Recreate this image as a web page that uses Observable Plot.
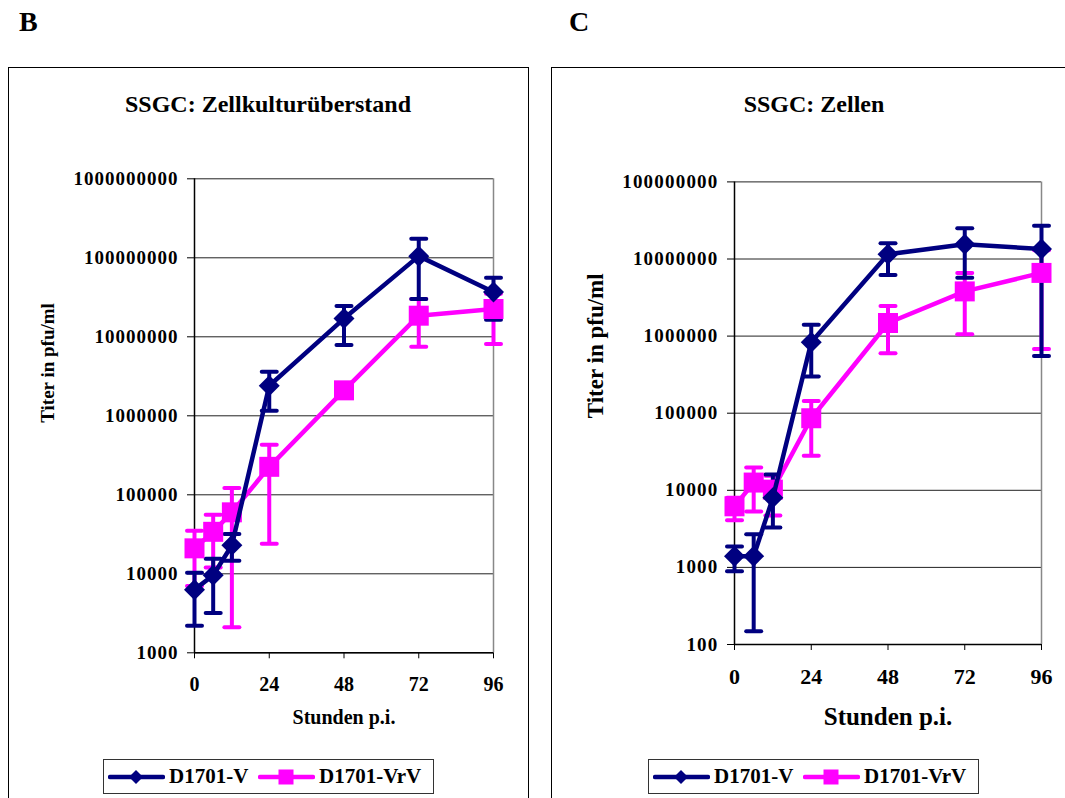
<!DOCTYPE html>
<html><head><meta charset="utf-8">
<script src="https://cdn.jsdelivr.net/npm/d3@7"></script>
<script src="https://cdn.jsdelivr.net/npm/@observablehq/plot@0.6"></script>
<style>
body{margin:0;background:#fff;}
#root{position:relative;width:1065px;height:798px;overflow:hidden;background:#fff;font-family:"Liberation Serif","Times New Roman",serif;font-weight:bold;color:#000;}
.abs{position:absolute;white-space:nowrap;}
.frame{position:absolute;border:1px solid #000;box-sizing:border-box;}
.plotwrap{position:absolute;}
.plotwrap svg{overflow:visible;}
.pB g[aria-label="y-axis tick label"] text{letter-spacing:1px;}
.pC g[aria-label="y-axis tick label"] text{letter-spacing:1.2px;}
.legend{position:absolute;border:1.5px solid #333;box-sizing:border-box;background:#fff;}
.legend .item{position:absolute;top:0;height:100%;display:flex;align-items:center;font-size:21px;}
</style>
</head><body><div id="root"></div>
<script>
// ---------- data ----------
const hours = [0, 6, 12, 24, 48, 72, 96];
const xTicks = [0, 24, 48, 72, 96];
const seriesNames = ["D1701-V", "D1701-VrV"];

// Panel B: SSGC Zellkulturüberstand
const bTicks = [1000, 10000, 100000, 1000000, 10000000, 100000000, 1000000000];
const bV     = [6300, 9600, 23000, 2400000, 17000000, 105000000, 37000000];
const bVhi   = [10300, 15500, 32000, 3600000, 24500000, 174000000, 56000000];
const bVlo   = [2200, 3200, 14600, 1160000, 7900000, 30000000, 16400000];
const bVrV   = [21000, 34000, 60000, 226000, 2100000, 18500000, 22500000];
const bVrVhi = [35000, 56000, 122000, 430000, 2600000, 30000000, 35000000];
const bVrVlo = [7000, 12000, 2100, 24000, 1700000, 7500000, 8100000];

// Panel C: SSGC Zellen
const cTicks = [100, 1000, 10000, 100000, 1000000, 10000000, 100000000];
const cV     = [1400, 1400, 8000, 830000, 11500000, 15500000, 13500000];
const cVhi   = [1870, 2700, 16000, 1400000, 16000000, 25000000, 27000000];
const cVlo   = [890, 148, 3300, 300000, 6200000, 5700000, 550000];
const cVrV   = [6200, 12600, 10200, 86000, 1480000, 3800000, 6600000];
const cVrVhi = [8000, 19800, 15500, 144000, 2450000, 6600000, 13000000];
const cVrVlo = [4100, 5300, 4700, 28000, 600000, 1060000, 680000];

const NAVY = "#000080", MAG = "#FF00FF";

// ---------- symbols ----------
const diamondSym = {draw(ctx, size){const r=Math.sqrt(size/Math.PI); ctx.moveTo(0,-r); ctx.lineTo(r,0); ctx.lineTo(0,r); ctx.lineTo(-r,0); ctx.closePath();}};
const squareSym  = {draw(ctx, size){const r=Math.sqrt(size/Math.PI); ctx.rect(-r,-r,2*r,2*r);}};
const capSym     = {draw(ctx, size){const r=Math.sqrt(size/Math.PI); ctx.moveTo(-r,0); ctx.lineTo(r,0);}};

function rows(v, hi, lo){ return hours.map((t,i)=>({t, v:v[i], hi:hi[i], lo:lo[i]})); }

function seriesMarks(data, color){
  return [
    Plot.ruleX(data, {x:"t", y1:"lo", y2:"hi", stroke:color, strokeWidth:4}),
    Plot.dot(data, {x:"t", y:"hi", symbol:capSym, r:7.5, stroke:color, fill:"none", strokeWidth:4, strokeLinecap:"round"}),
    Plot.dot(data, {x:"t", y:"lo", symbol:capSym, r:7.5, stroke:color, fill:"none", strokeWidth:4, strokeLinecap:"round"})
  ];
}
function lineMarks(data, color, sym, r){
  return [
    Plot.line(data, {x:"t", y:"v", stroke:color, strokeWidth:4.5, strokeLinejoin:"round"}),
    Plot.dot(data, {x:"t", y:"v", symbol:sym, r:r, fill:color, stroke:"none"})
  ];
}

function panel(o){
  const dV = rows(o.v, o.vhi, o.vlo), dR = rows(o.r, o.rhi, o.rlo);
  return Plot.plot({
    width:o.width, height:o.height,
    marginLeft:o.ml, marginRight:o.mr, marginTop:o.mt, marginBottom:o.mb,
    className:o.cls,
    style:{fontFamily:'"Liberation Serif","Times New Roman",serif', fontWeight:"bold", background:"transparent", color:"#000", overflow:"visible"},
    x:{domain:[0,96]},
    y:{type:"log", domain:[o.ticks[0], o.ticks[o.ticks.length-1]]},
    marks:[
      Plot.ruleY(o.ticks, {stroke:"#222", strokeWidth:1}),
      Plot.ruleX([96], {stroke:"#888", strokeWidth:1.5}),
      Plot.ruleX([0], {stroke:"#000", strokeWidth:1.5}),
      Plot.ruleY([o.ticks[0]], {stroke:"#000", strokeWidth:1.5}),
      Plot.axisY({ticks:o.ticks, tickFormat:d=>String(d), tickSize:7, tickPadding:9, fontSize:o.yfs, fontWeight:"bold", label:null}),
      Plot.axisX({ticks:xTicks, tickFormat:d=>String(d), tickSize:6, tickPadding:o.xpad, fontSize:o.xfs, fontWeight:"bold", label:null}),
      Plot.text(["Titer in pfu/ml"], {frameAnchor:"left", dx:o.ylx, dy:o.yly, rotate:-90, fontSize:o.ylfs, fontWeight:"bold"}),
      Plot.text(["Stunden p.i."], {frameAnchor:"bottom", lineAnchor:"top", dy:o.xly, fontSize:o.xlfs, fontWeight:"bold"}),
      ...seriesMarks(dR, MAG), ...seriesMarks(dV, NAVY),
      ...lineMarks(dR, MAG, squareSym, 10), ...lineMarks(dV, NAVY, diamondSym, 10.5)
    ]
  });
}

const root = document.getElementById("root");
function addDiv(cls, style, html){ const d=document.createElement("div"); d.className=cls; Object.assign(d.style, style); if(html!=null) d.innerHTML=html; root.appendChild(d); return d; }

// frames
addDiv("frame", {left:"8px", top:"67px", width:"521px", height:"800px"});
addDiv("frame", {left:"551px", top:"67px", width:"600px", height:"800px"});

// panel letters and titles
addDiv("abs", {left:"19px", top:"6px", fontSize:"28px"}, "B");
addDiv("abs", {left:"569px", top:"6px", fontSize:"28px"}, "C");
addDiv("abs", {left:"268px", top:"91px", fontSize:"24px", transform:"translateX(-50%)"}, "SSGC: Zellkulturüberstand");
addDiv("abs", {left:"814px", top:"91px", fontSize:"24px", transform:"translateX(-50%)"}, "SSGC: Zellen");

// plots
const wB = addDiv("plotwrap", {left:"0px", top:"0px"});
wB.appendChild(panel({width:540, height:740, ml:194, mr:47, mt:178.3, mb:87.7, cls:"pB",
  ticks:bTicks, v:bV, vhi:bVhi, vlo:bVlo, r:bVrV, rhi:bVrVhi, rlo:bVrVlo,
  yfs:19, xfs:20, xpad:18, ylx:-147, yly:7, ylfs:19, xly:57, xlfs:20}));
const wC = addDiv("plotwrap", {left:"540px", top:"0px"});
wC.appendChild(panel({width:525, height:740, ml:194, mr:24, mt:181.4, mb:96, cls:"pC",
  ticks:cTicks, v:cV, vhi:cVhi, vlo:cVlo, r:cVrV, rhi:cVrVhi, rlo:cVrVlo,
  yfs:19, xfs:22, xpad:18, ylx:-139, yly:5, ylfs:23, xly:63, xlfs:25}));

// legends
function swatch(color, shape){
  const m = shape==="d"
    ? `<path d="M28,-7L35,0L28,7L21,0Z" fill="${color}"/>`
    : `<rect x="20.5" y="-7.5" width="15" height="15" fill="${color}"/>`;
  return `<svg width="57" height="20" viewBox="0 -10 57 20"><line x1="2" y1="0" x2="55" y2="0" stroke="${color}" stroke-width="4.5" stroke-linecap="round"/>${m}</svg>`;
}
function legend(left){
  const L = addDiv("legend", {left:left+"px", top:"759px", width:"331px", height:"35px"});
  const a = document.createElement("div"); a.className="item"; a.style.left="4px";
  a.innerHTML = swatch(NAVY,"d")+`<span style="margin-left:4px">${seriesNames[0]}</span>`;
  const b = document.createElement("div"); b.className="item"; b.style.left="154px";
  b.innerHTML = swatch(MAG,"s")+`<span style="margin-left:4px">${seriesNames[1]}</span>`;
  L.appendChild(a); L.appendChild(b);
}
legend(103);
legend(648);
</script>
</body></html>
